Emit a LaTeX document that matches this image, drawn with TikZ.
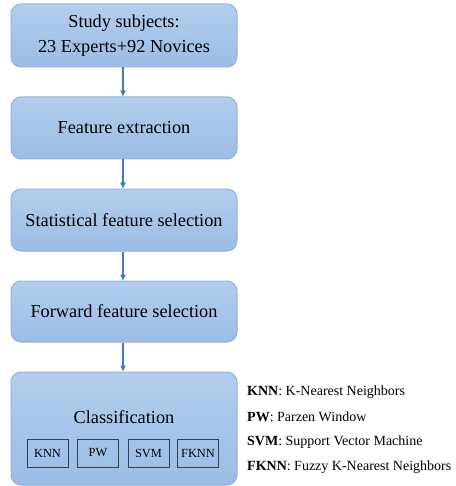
\documentclass[tikz,border=0pt]{standalone}
\usepackage{fontspec}
\setmainfont{Liberation Serif}
\usetikzlibrary{arrows.meta}
\definecolor{boxtop}{HTML}{B3CEEC}
\definecolor{boxbot}{HTML}{9BBCE5}
\definecolor{boxline}{HTML}{8DB3E2}
\definecolor{flowarrow}{HTML}{3F7CBF}
\definecolor{algline}{HTML}{3A3F4A}
\tikzset{
  stagebox/.style={draw=boxline, line width=1pt, rounded corners=10pt,
    top color=boxtop, bottom color=boxbot, minimum width=226pt,
    align=center, font=\fontsize{18.3}{25}\selectfont},
  algbox/.style={draw=algline, line width=0.6pt, minimum width=41pt,
    minimum height=28pt, inner sep=0pt, font=\fontsize{12.4}{14}\selectfont},
  flow/.style={flowarrow, line width=1.6pt, -{Triangle[length=6pt,width=5pt]}},
  legline/.style={anchor=west, inner sep=0pt, font=\fontsize{14}{16}\selectfont}
}
\begin{document}
\begin{tikzpicture}[x=1pt, y=1pt]
    \useasboundingbox (0,0) rectangle (455,-486);

    % Etapes
    \node[stagebox, minimum height=63pt] (subj) at (124,-35.5) {Study subjects:\\23 Experts+92 Novices};
    \node[stagebox, minimum height=62pt] (feat) at (124,-128) {Feature extraction};
    \node[stagebox, minimum height=62pt] (stat) at (124,-220) {Statistical feature selection};
    \node[stagebox, minimum height=61pt] (fwd) at (124,-311.5) {Forward feature selection};
    \node[stagebox, minimum height=113pt] (cls) at (124,-428.5) {};
    \node[font=\fontsize{18.3}{22}\selectfont] (clstxt) at (124,-417) {Classification};

    % Classifieurs
    \node[algbox] (knn) at (47.5,-453) {KNN};
    \node[algbox] (pw) at (98,-453) {PW};
    \node[algbox] (svm) at (148.5,-453) {SVM};
    \node[algbox] (fknn) at (198,-453) {FKNN};

    % Fleches
    \draw[flow] (subj.south -| 123,0) -- (feat.north -| 123,0);
    \draw[flow] (feat.south -| 123,0) -- (stat.north -| 123,0);
    \draw[flow] (stat.south -| 123,0) -- (fwd.north -| 123,0);
    \draw[flow] (fwd.south -| 123,0) -- (cls.north -| 123,0);

    % Legende
    \node[legline] (legknn) at (247,-392) {\textbf{KNN}: K-Nearest Neighbors};
    \node[legline] (legpw) at (247,-417) {\textbf{PW}: Parzen Window};
    \node[legline] (legsvm) at (247,-442) {\textbf{SVM}: Support Vector Machine};
    \node[legline] (legfknn) at (247,-467) {\textbf{FKNN}: Fuzzy K-Nearest Neighbors};
\end{tikzpicture}
\end{document}
